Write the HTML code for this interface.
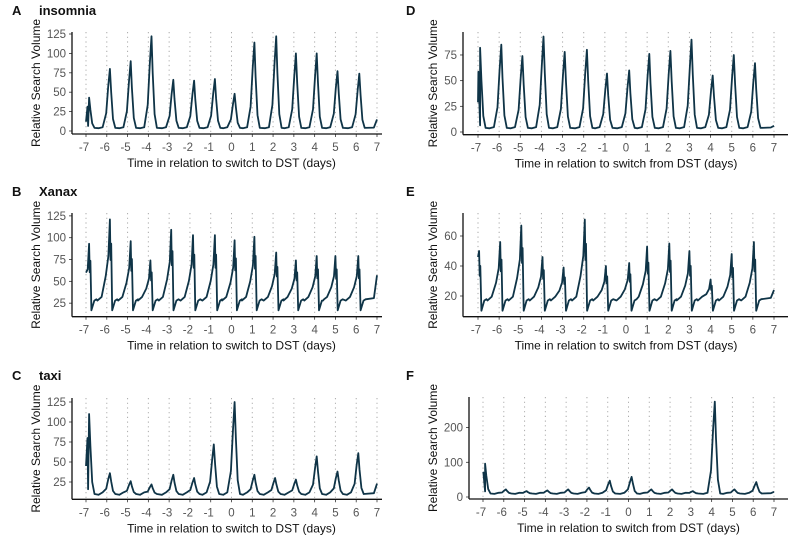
<!DOCTYPE html>
<html><head><meta charset="utf-8"><style>
body{margin:0;background:#fff;width:800px;height:543px;overflow:hidden;font-family:"Liberation Sans",sans-serif}
svg text{font-family:"Liberation Sans",sans-serif}
</style></head><body>
<svg id="c" width="800" height="543"></svg>
<script>
// tick labels
const dayTicks=[-7,-6,-5,-4,-3,-2,-1,0,1,2,3,4,5,6,7];
const yTicksA=[0,25,50,75,100,125], yTicksB=[25,50,75,100,125], yTicksC=[25,50,75,100,125];
const yTicksD=[0,25,50,75], yTicksE=[20,40,60], yTicksF=[0,100,200];
// peak times (days) and peak values
const peakDayA=[-6.85,-5.85,-4.85,-3.85,-2.8,-1.8,-0.8,0.15,1.1,2.15,3.1,4.1,5.1,6.15];
const peakValA=[43,80,90,122,66,65,67,48,114,122,100,100,77,74];
const peakDayB=[-6.85,-5.85,-4.85,-3.9,-2.9,-1.85,-0.8,0.15,1.1,2.15,3.1,4.1,5.0,6.1];
const peakValB=[93,121,96,74,109,103,103,97,101,83,74,79,79,79];
const peakDayC=[-6.85,-5.85,-4.85,-3.85,-2.8,-1.8,-0.85,0.15,1.1,2.1,3.1,4.1,5.1,6.1];
const peakValC=[110,36,26,22,34,30,72,125,34,30,28,57,38,61];
const peakDayD=[-6.9,-5.9,-4.9,-3.9,-2.9,-1.85,-0.9,0.15,1.1,2.1,3.1,4.1,5.1,6.1];
const peakValD=[82,85,74,93,78,80,57,60,76,79,90,55,75,67];
const peakDayE=[-6.95,-5.95,-4.95,-3.95,-2.95,-1.95,-0.95,0.15,1.0,2.05,3.0,4.0,5.0,6.05];
const peakValE=[50,56,67,46,39,71,40,42,53,55,50,31,48,56];
const peakDayF=[-6.9,-5.9,-4.9,-3.9,-2.9,-1.9,-0.9,0.15,1.1,2.1,3.1,4.15,5.1,6.15];
const peakValF=[96,22,17,19,22,27,47,58,22,22,17,275,22,43];
const baseVals=[4,28,10,4,17,10];
const startVals=[12,60,45,29,46,68];
const endVals=[15,57,23,6,24,15];

const NS="http://www.w3.org/2000/svg", svg=document.getElementById('c');
function el(t,a,p){const e=document.createElementNS(NS,t);for(const k in a)e.setAttribute(k,a[k]);(p||svg).appendChild(e);return e;}

const panels=[
 {L:'A',t:'insomnia',ax:72,x0:86,x1:377,xe:382,y0:131,ppu:97/125,top:32,bot:134,yt:yTicksA,pd:peakDayA,pv:peakValA,xl:'Time in relation to switch to DST (days)',ty:15,type:'spike',yx:40},
 {L:'B',t:'Xanax',ax:72,x0:86,x1:377,xe:382,y0:325,ppu:0.873,top:213,bot:316.7,yt:yTicksB,pd:peakDayB,pv:peakValB,xl:'Time in relation to switch to DST (days)',ty:196,type:'ramp',yx:40},
 {L:'C',t:'taxi',ax:72,x0:86,x1:377,xe:382,y0:502,ppu:0.8,top:398,bot:499.3,yt:yTicksC,pd:peakDayC,pv:peakValC,xl:'Time in relation to switch to DST (days)',ty:380,type:'spike',yx:40},
 {L:'D',t:'',ax:463,x0:478,x1:774,xe:788,y0:132,ppu:1.027,top:32,bot:134.7,yt:yTicksD,pd:peakDayD,pv:peakValD,xl:'Time in relation to switch from DST (days)',ty:15,type:'spike',yx:437},
 {L:'E',t:'',ax:463,x0:478,x1:774,xe:788,y0:326,ppu:1.5,top:213,bot:316.7,yt:yTicksE,pd:peakDayE,pv:peakValE,xl:'Time in relation to switch from DST (days)',ty:196,type:'ramp',yx:437},
 {L:'F',t:'',ax:469,x0:483,x1:774,xe:788,y0:497,ppu:0.347,top:397,bot:499,yt:yTicksF,pd:peakDayF,pv:peakValF,xl:'Time in relation to switch from DST (days)',ty:380,type:'spike',yx:437}
];

panels.forEach((p,i)=>{
 const g=el('g',{});
 
 
 const xs=d=>p.x0+(d+7)*(p.x1-p.x0)/14, ys=v=>p.y0-v*p.ppu;
 const lx=p.ax<200?12:406;
 const lt=el('text',{x:lx,y:p.ty,'font-size':13,'font-weight':'bold',fill:'#111'},g);lt.textContent=p.L;
 
 if(p.t){const tt=el('text',{x:39,y:p.ty,'font-size':13,'font-weight':'bold',fill:'#111'},g);tt.textContent=p.t;
  }
 dayTicks.forEach(d=>{
  const gl=el('line',{x1:xs(d),x2:xs(d),y1:p.top,y2:p.bot,stroke:'#aaa','stroke-width':1,'stroke-dasharray':'1.2 3.5'},g);
  
  el('line',{x1:xs(d),x2:xs(d),y1:p.bot,y2:p.bot+3,stroke:'#333','stroke-width':0.8},g);
  const tl=el('text',{x:xs(d)-(d<0?2:0),y:p.bot+17,'font-size':11.5,fill:'#555','text-anchor':'middle'},g);tl.textContent=d;
  
 });
 p.yt.forEach(v=>{
  el('line',{x1:p.ax-3,x2:p.ax,y1:ys(v),y2:ys(v),stroke:'#333','stroke-width':0.8},g);
  const yl=el('text',{x:p.ax-6,y:ys(v)+4,'font-size':11.5,fill:'#555','text-anchor':'end'},g);yl.textContent=v;
  
 });
 // series
 const b=baseVals[i];let pts=[[-7,startVals[i]]];
 if(p.type==='spike'){pts.push([-7+0.1,b*1.6]);}
 p.pd.forEach((d,k)=>{const v=p.pv[k];
  if(p.type==='spike'){
   if(k>0)pts.push([d-0.35,b*1.2],[d-0.55,b*0.9]);
   pts.push([d-0.18,b+(v-b)*0.25],[d-0.08,b+(v-b)*0.7],[d,v],[d+0.06,b+(v-b)*0.6],[d+0.15,b+(v-b)*0.15],[d+0.26,b]);
  }else{
   if(k>0)pts.push([d-0.6,b*1.0],[d-0.4,b*1.15]);
   pts.push([d-0.2,b+(v-b)*0.3],[d-0.07,b+(v-b)*0.55],[d,v],[d+0.03,b+(v-b)*0.5],[d+0.06,b+(v-b)*0.7],[d+0.11,b*0.6],[d+0.25,b],[d+0.35,b*1.05]);
  }
 });
 pts.push([6.85,b*1.1],[7,endVals[i]]);
 pts=pts.filter(q=>q[0]>=-7&&q[0]<=7).sort((a,c)=>a[0]-c[0]);
 const line=el('path',{d:pts.map((q,j)=>(j?'L':'M')+xs(q[0]).toFixed(1)+' '+ys(q[1]).toFixed(1)).join(''),fill:'none',stroke:'#0f3447','stroke-width':1.8,'stroke-linejoin':'round'},g);
 
 el('line',{x1:p.ax,x2:p.ax,y1:p.top,y2:p.bot,stroke:'#111','stroke-width':1.3},g);
 el('line',{x1:p.ax,x2:p.xe,y1:p.bot,y2:p.bot,stroke:'#111','stroke-width':1.3},g);
 const xt=el('text',{x:(p.x0+p.x1)/2,y:p.bot+33,'font-size':12,fill:'#111','text-anchor':'middle'},g);xt.textContent=p.xl;
 
 const cy=(p.top+p.bot)/2,cx=p.yx;
 const yt=el('text',{x:cx,y:cy,'font-size':12,fill:'#111','text-anchor':'middle',transform:`rotate(-90 ${cx} ${cy})`},g);yt.textContent='Relative Search Volume';
 
});
</script>
</body></html>
